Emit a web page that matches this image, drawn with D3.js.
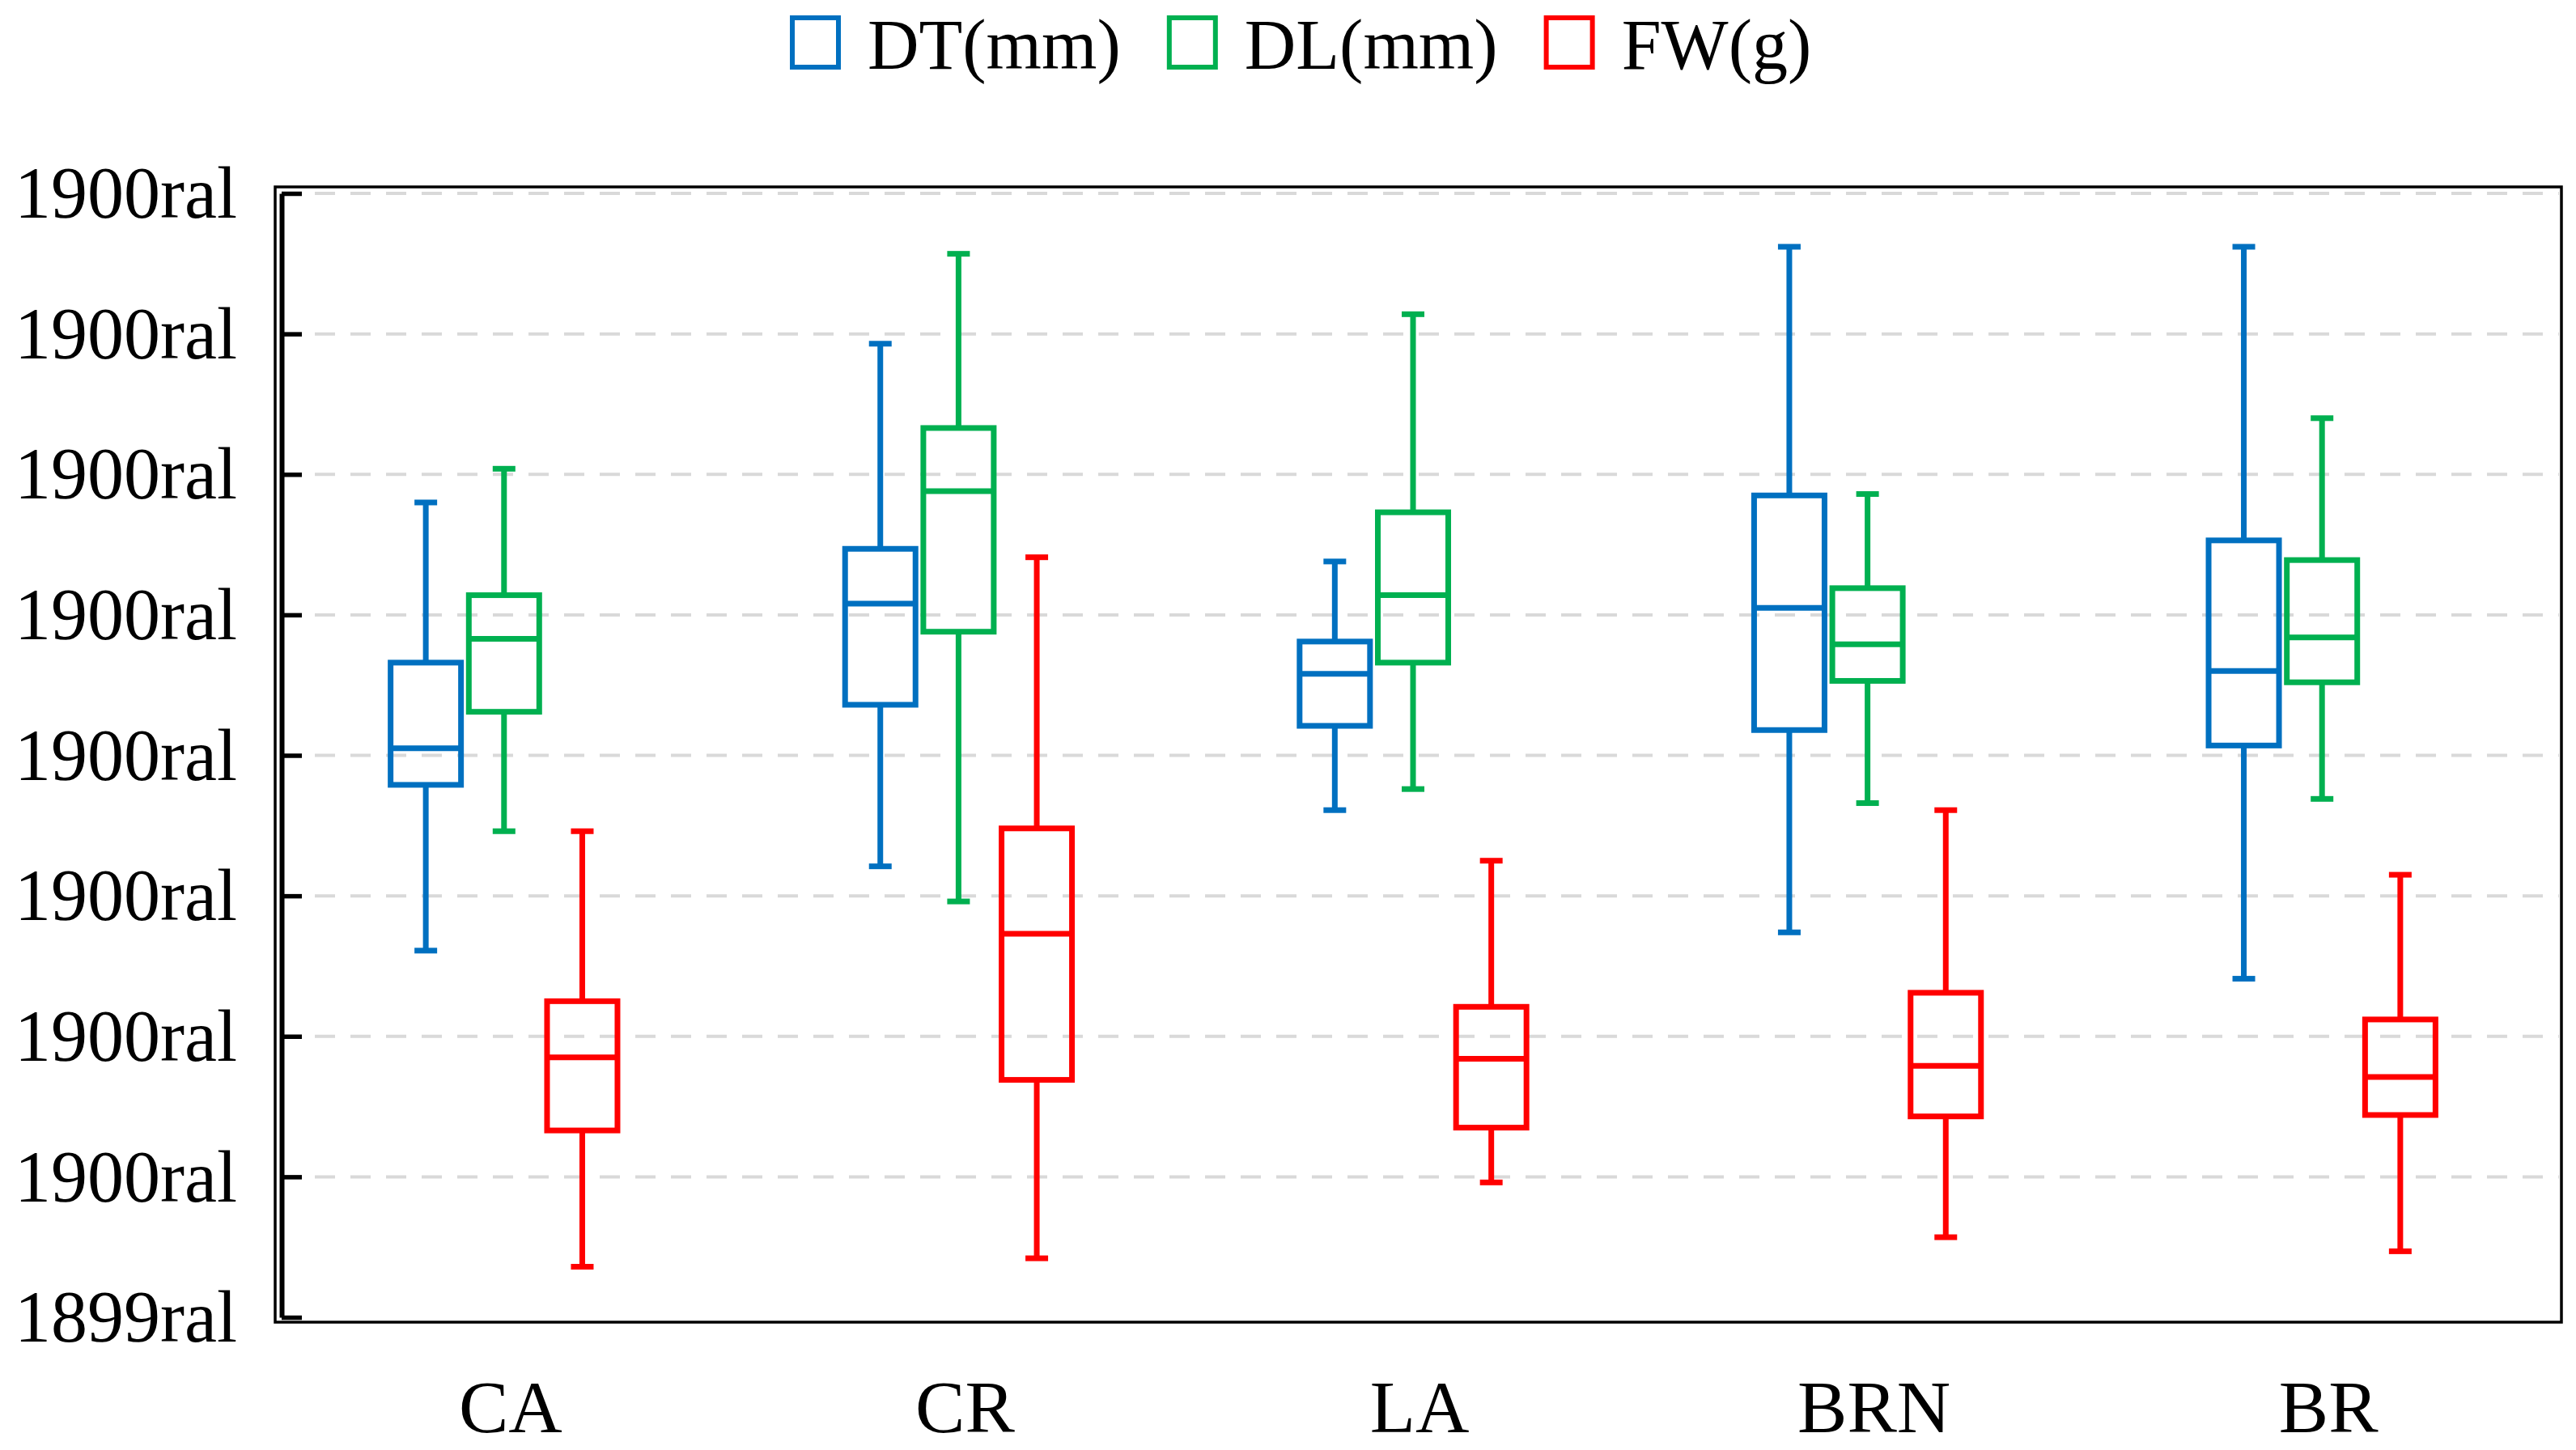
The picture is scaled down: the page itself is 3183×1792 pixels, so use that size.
<!DOCTYPE html>
<html>
<head>
<meta charset="utf-8">
<script src="https://cdn.jsdelivr.net/npm/d3@7"></script>
<style>
  html, body { margin: 0; padding: 0; background: #fff; }
  svg text { font-family: "Liberation Serif", "Times New Roman", serif; fill: #000; }
</style>
</head>
<body>
<svg id="chart" width="3183" height="1792"></svg>
<script>
// categories and series
var categories = ['CA', 'CR', 'LA', 'BRN', 'BR'];
var series = ['DT(mm)', 'DL(mm)', 'FW(g)'];
var seriesColors = ['#0070C0', '#00B050', '#FF0000'];

// y ticks (bottom to top), labels as printed on the chart
var yTickValues = [0, 1, 2, 3, 4, 5, 6, 7, 8];
var yTickLabels = ['1899ral', '1900ral', '1900ral', '1900ral', '1900ral', '1900ral', '1900ral', '1900ral', '1900ral'];

// [min, q1, median, q3, max] per category, in tick units
var dtValues = [
	[2.61, 3.79, 4.05, 4.66, 5.80],
	[3.21, 4.36, 5.08, 5.47, 6.93],
	[3.61, 4.21, 4.58, 4.81, 5.38],
	[2.74, 4.18, 5.05, 5.85, 7.62],
	[2.41, 4.07, 4.60, 5.53, 7.62]
];
var dlValues = [
	[3.46, 4.31, 4.83, 5.14, 6.04],
	[2.96, 4.88, 5.88, 6.33, 7.57],
	[3.76, 4.66, 5.14, 5.73, 7.14],
	[3.66, 4.53, 4.79, 5.19, 5.86],
	[3.69, 4.52, 4.84, 5.39, 6.40]
];
var fwValues = [
	[0.36, 1.33, 1.85, 2.25, 3.46],
	[0.42, 1.69, 2.73, 3.48, 5.41],
	[0.96, 1.35, 1.84, 2.21, 3.25],
	[0.57, 1.43, 1.79, 2.31, 3.61],
	[0.47, 1.44, 1.71, 2.12, 3.15]
];
var seriesValues = [dtValues, dlValues, fwValues];

var svg = d3.select('#chart');

var frame = { left: 340, top: 231, right: 3165, bottom: 1634 };
var axisX = 348;

var x = d3.scaleBand().domain(categories).range([342, 3150]);
var xs = d3.scaleBand().domain(series).range([-145, 145]);
var y = d3.scaleLinear().domain([0, 8]).range([1628, 239]);

var boxW = 87, capW = 28, lineW = 7;

// frame
svg.append('rect')
	.attr('x', frame.left)
	.attr('y', frame.top)
	.attr('width', frame.right - frame.left)
	.attr('height', frame.bottom - frame.top)
	.attr('fill', 'none')
	.attr('stroke', '#000')
	.attr('stroke-width', 3.5);

// grid
svg.append('g')
	.selectAll('line')
	.data(yTickValues.filter(function(d){ return d > 0; }))
	.join('line')
	.attr('x1', 389)
	.attr('x2', frame.right - 3)
	.attr('y1', function(d){ return y(d); })
	.attr('y2', function(d){ return y(d); })
	.attr('stroke', '#d9d9d9')
	.attr('stroke-width', 4)
	.attr('stroke-dasharray', '25,19');

// y axis, ticks pointing inside
var yAxis = d3.axisLeft(y)
	.tickValues(yTickValues)
	.tickFormat(function(d, i){ return yTickLabels[i]; })
	.tickSizeInner(-25)
	.tickSizeOuter(0)
	.tickPadding(55);

var yg = svg.append('g')
	.attr('transform', 'translate(' + axisX + ',0)')
	.call(yAxis);
yg.select('.domain').attr('stroke', '#000').attr('stroke-width', 6);
yg.selectAll('.tick line').attr('stroke', '#000').attr('stroke-width', 5.5);
yg.selectAll('.tick text')
	.attr('font-size', 90)
	.attr('dy', '0.33em')
	.style('font-family', '"Liberation Serif", "Times New Roman", serif');

// x axis labels
var xAxis = d3.axisBottom(x).tickSize(0).tickPadding(0);
var xg = svg.append('g')
	.attr('transform', 'translate(8,1705)')
	.call(xAxis);
xg.select('.domain').remove();
xg.selectAll('.tick text')
	.attr('font-size', 92)
	.attr('dy', '0.71em')
	.style('font-family', '"Liberation Serif", "Times New Roman", serif');

// boxes
series.forEach(function(s, si){
	var col = seriesColors[si];
	var g = svg.append('g').attr('class', 'series-' + si);

	categories.forEach(function(c, ci){
		var v = seriesValues[si][ci];
		var cx = x(c) + x.bandwidth() / 2 + xs(s) + xs.bandwidth() / 2;
		var b = g.append('g');

		function mkline(x1, y1, x2, y2){
			b.append('line')
				.attr('x1', x1).attr('y1', y1)
				.attr('x2', x2).attr('y2', y2)
				.attr('stroke', col)
				.attr('stroke-width', lineW);
		}

		// whiskers
		mkline(cx, y(v[0]), cx, y(v[1]));
		mkline(cx, y(v[3]), cx, y(v[4]));
		mkline(cx - capW / 2, y(v[0]), cx + capW / 2, y(v[0]));
		mkline(cx - capW / 2, y(v[4]), cx + capW / 2, y(v[4]));

		// box
		b.append('rect')
			.attr('x', cx - boxW / 2)
			.attr('y', y(v[3]))
			.attr('width', boxW)
			.attr('height', y(v[1]) - y(v[3]))
			.attr('fill', 'none')
			.attr('stroke', col)
			.attr('stroke-width', lineW);

		// median
		mkline(cx - boxW / 2, y(v[2]), cx + boxW / 2, y(v[2]));
	});
});

// legend
var legend = svg.append('g').attr('transform', 'translate(976,0)');
var lx = 0;
series.forEach(function(s, si){
	legend.append('rect')
		.attr('x', lx + 3)
		.attr('y', 22)
		.attr('width', 57)
		.attr('height', 61)
		.attr('fill', 'none')
		.attr('stroke', seriesColors[si])
		.attr('stroke-width', 6);
	var t = legend.append('text')
		.attr('x', lx + 96)
		.attr('y', 85)
		.attr('font-size', 88)
		.text(s);
	lx += 96 + t.node().getComputedTextLength() + 57;
});
</script>
</body>
</html>
